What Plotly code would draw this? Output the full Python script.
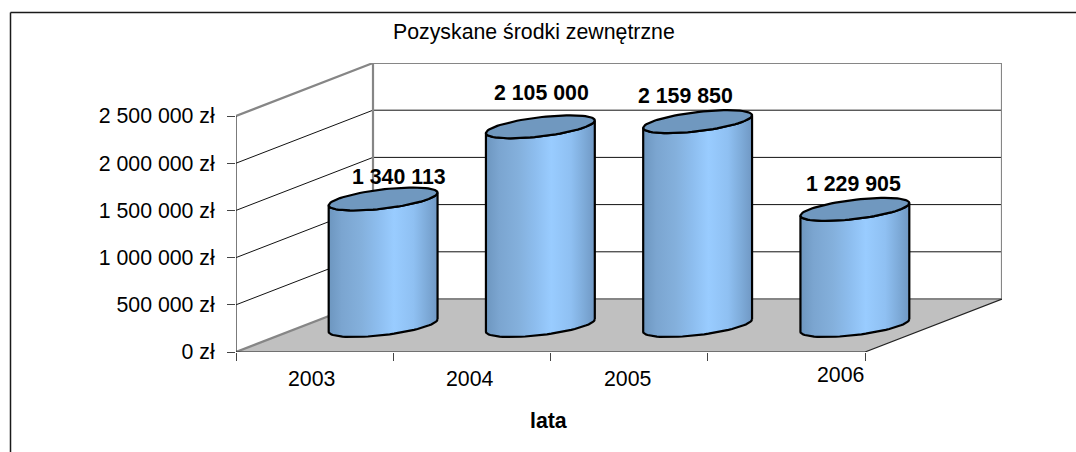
import numpy as np
import plotly.graph_objects as go

# --- data ---
years = ["2003", "2004", "2005", "2006"]
values = [1340113, 2105000, 2159850, 1229905]
value_labels = ["1 340 113", "2 105 000", "2 159 850", "1 229 905"]
y_ticks = [0, 500000, 1000000, 1500000, 2000000, 2500000]
y_tick_labels = ["0 zł", "500 000 zł", "1 000 000 zł", "1 500 000 zł", "2 000 000 zł", "2 500 000 zł"]
title_text = "Pozyskane środki zewnętrzne"
x_title = "lata"

# --- layout constants (pixels of the 1076x452 page) ---
W, H = 1076, 452
PX_L, PX_B = 236, 352          # front-left floor corner
PX_CAT = 157.25                # pixels per category
PX_VAL = 236 / 2500000         # pixels per zł
DX_DEPTH, DY_DEPTH = 137, 53   # oblique shift of full depth
K = DX_DEPTH / PX_CAT          # depth shift in category units
M = DY_DEPTH / PX_VAL          # depth shift in value units
XMAX = 4 + K
YMAX = 2500000 + M
FONT = "Liberation Sans, Arial, sans-serif"
FS = 21.3
PW, PH = XMAX * PX_CAT, YMAX * PX_VAL  # plot area size


def proj(u, v, d):
    """oblique 3-D to axis coordinates"""
    return np.asarray(u) + K * np.asarray(d), np.asarray(v) + M * np.asarray(d)


def line3d(us, vs, ds, color, width):
    x, y = proj(us, vs, ds)
    return go.Scatter(x=x, y=y, mode="lines", line=dict(color=color, width=width),
                      hoverinfo="skip", showlegend=False, cliponaxis=False)


def poly3d(us, vs, ds, fillcolor):
    x, y = proj(us, vs, ds)
    return go.Scatter(x=x, y=y, mode="lines", fill="toself", fillcolor=fillcolor,
                      line=dict(width=0), hoverinfo="skip", showlegend=False, cliponaxis=False)


fig = go.Figure()
GREY = "#868686"

# floor
fig.add_trace(poly3d([0, 4, 4, 0, 0], [0] * 5, [0, 0, 1, 1, 0], "#c0c0c0"))
# gridlines on side wall and back wall
for t in y_ticks[1:-1]:
    fig.add_trace(line3d([0, 0, 4], [t, t, t], [0, 1, 1], "#111111", 1))
# wall outline
fig.add_trace(line3d([0, 0, 0], [2500000, 2500000, 0], [0, 1, 1], GREY, 2.2))
fig.add_trace(line3d([0, 4, 4, 0], [2500000, 2500000, 0, 0], [1, 1, 1, 1], GREY, 2.2))
fig.add_trace(line3d([0, 0], [0, 0], [0, 1], GREY, 2.2))
# front axes and right floor edge
fig.add_trace(line3d([0, 4, 4], [0, 0, 0], [0, 0, 1], "#222222", 1.2))
fig.add_trace(line3d([0, 0], [0, 2500000], [0, 0], "#222222", 1.2))

# cylinders
RU, RD = 0.29, 0.217
BAND = [[0, "#6d96bf"], [0.12, "#7ba5d0"], [0.3, "#84b0dc"], [0.45, "#8dbdee"],
        [0.6, "#99ccff"], [0.78, "#8fc0f2"], [0.9, "#7eabd9"], [1, "#7098c4"]]
t0 = np.arctan2(RD * K, RU)
front = np.linspace(t0, t0 - np.pi, 40)   # visible front half, right to left
whole = np.linspace(0, 2 * np.pi, 81)
for i, val in enumerate(values):
    cu, cd = i + 0.5, 0.5
    fu, fd = cu + RU * np.cos(front), cd + RD * np.sin(front)
    # body: top front arc then bottom front arc reversed
    us = np.concatenate([fu, fu[::-1], fu[:1]])
    ds = np.concatenate([fd, fd[::-1], fd[:1]])
    vs = np.concatenate([np.zeros_like(fu), np.full_like(fu, val), [0]])
    x, y = proj(us, vs, ds)
    fig.add_trace(go.Scatter(x=x, y=y, mode="lines", fill="toself",
                             fillgradient=dict(type="horizontal", colorscale=BAND),
                             line=dict(color="#000000", width=2.2),
                             hoverinfo="skip", showlegend=False, cliponaxis=False))
    # top cap
    x, y = proj(cu + RU * np.cos(whole), np.full_like(whole, val), cd + RD * np.sin(whole))
    fig.add_trace(go.Scatter(x=x, y=y, mode="lines", fill="toself", fillcolor="#7098bf",
                             line=dict(color="#000000", width=2.2),
                             hoverinfo="skip", showlegend=False, cliponaxis=False))

annotations = []


def text_px(txt, px, py, bold=False):
    annotations.append(dict(text=f"<b>{txt}</b>" if bold else txt,
                            x=(px - PX_L) / PW, y=(PX_B - py) / PH,
                            xref="paper", yref="paper", showarrow=False,
                            xanchor="center", yanchor="middle",
                            font=dict(family=FONT, size=FS, color="#000000")))


for lab, px, py in zip(value_labels, [399, 541, 685, 853], [177, 93, 96, 184]):
    text_px(lab, px, py, bold=True)
for lab, px, py in zip(years, [311, 470, 627, 840], [379, 379, 379, 375]):
    text_px(lab, px, py)
text_px(title_text, 534, 32)
text_px(x_title, 548, 421, bold=True)

mr = W - (PX_L + PW)
mt = PX_B - PH
fig.update_layout(
    width=W, height=H, autosize=False,
    margin=dict(l=PX_L, r=mr, t=mt, b=H - PX_B, pad=0),
    paper_bgcolor="white", plot_bgcolor="rgba(0,0,0,0)",
    showlegend=False, annotations=annotations,
    xaxis=dict(range=[0, XMAX], showgrid=False, zeroline=False, showline=False,
               tickmode="array", tickvals=[0, 1, 2, 3, 4], showticklabels=False,
               ticks="outside", ticklen=8, tickwidth=1, tickcolor="#444444", fixedrange=True),
    yaxis=dict(range=[0, YMAX], showgrid=False, zeroline=False, showline=False,
               tickmode="array", tickvals=y_ticks, ticktext=y_tick_labels,
               ticks="outside", ticklen=8, tickwidth=1, tickcolor="#444444",
               ticklabelstandoff=8, tickfont=dict(family=FONT, size=FS, color="#000000"),
               fixedrange=True),
    shapes=[
        dict(type="line", xref="paper", yref="paper", layer="below",
             x0=(10.5 - PX_L) / PW, x1=(W - PX_L) / PW,
             y0=(PX_B - 12.5) / PH, y1=(PX_B - 12.5) / PH,
             line=dict(color="#1a1a1a", width=1.5)),
        dict(type="line", xref="paper", yref="paper", layer="below",
             x0=(10.5 - PX_L) / PW, x1=(10.5 - PX_L) / PW,
             y0=(PX_B - 12.5) / PH, y1=(PX_B - H) / PH,
             line=dict(color="#1a1a1a", width=1.5)),
    ],
)

fig.write_html("out.html", config=dict(displayModeBar=False),
               post_script="document.body.style.margin='0';document.body.style.overflow='hidden';")
